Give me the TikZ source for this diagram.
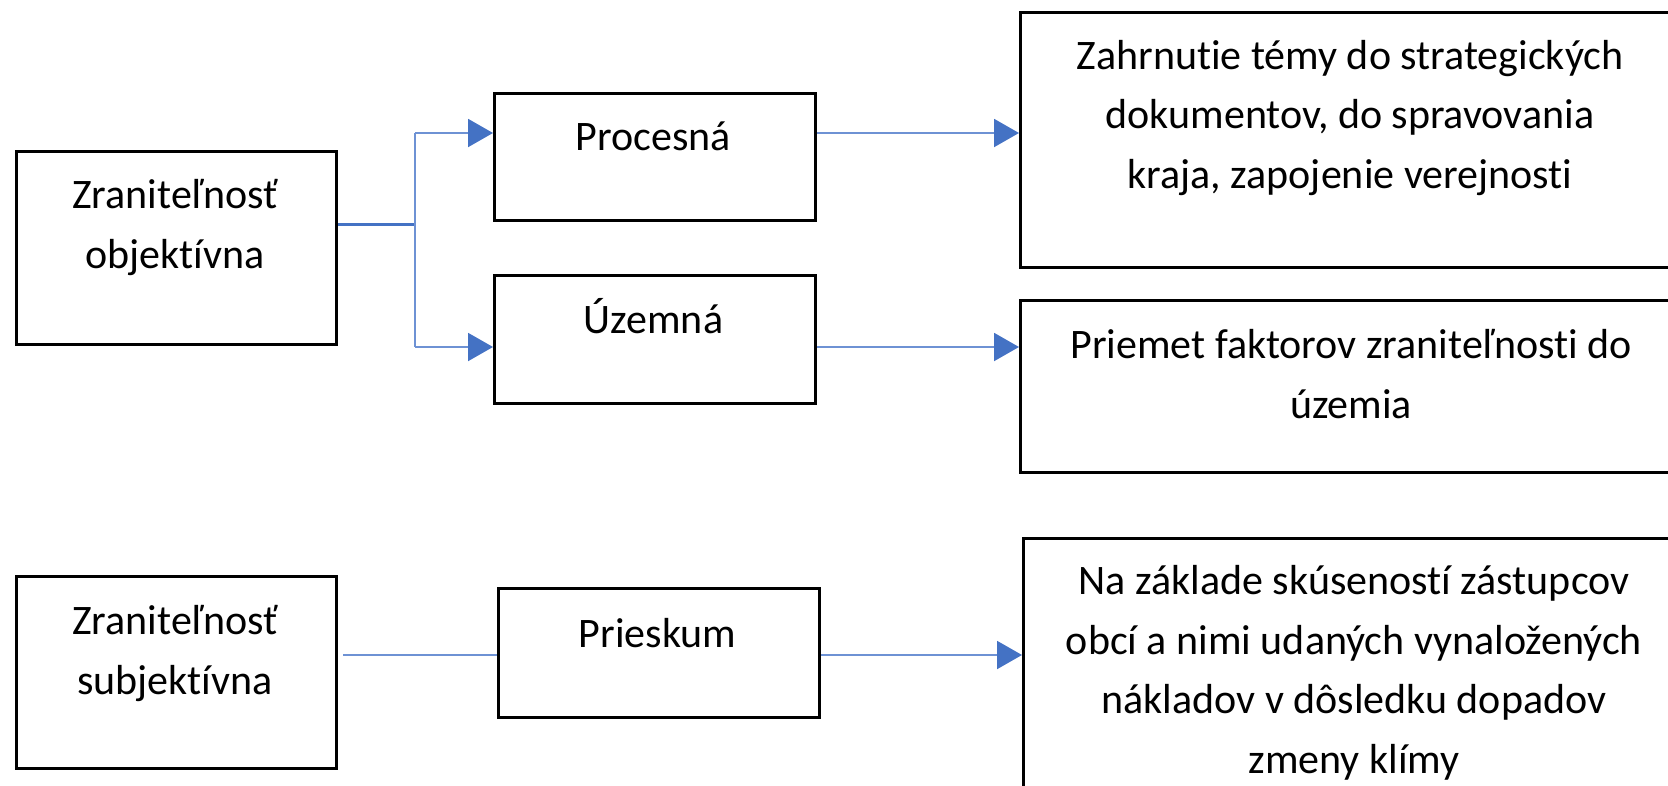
\documentclass[tikz,border=0pt]{standalone}
\usepackage{fontspec}
\setmainfont{Carlito}[Ligatures=NoCommon]
\usetikzlibrary{arrows.meta}
\definecolor{linkblue}{RGB}{68,114,196}
\definecolor{thinblue}{RGB}{110,146,212}
\tikzset{
  box/.style={draw=black, line width=3pt, fill=white, rectangle, inner sep=0pt, anchor=north west},
  txt/.style={anchor=base, align=center, inner sep=0pt, font=\fontsize{42}{59.5}\selectfont},
  trunk/.style={draw=linkblue, line width=3pt},
  branch/.style={draw=thinblue, line width=2pt},
  arr/.style={draw=thinblue, line width=2pt, -{Triangle[length=25pt,width=28pt,fill=linkblue,color=linkblue]}}
}
\begin{document}
\begin{tikzpicture}[x=1pt,y=-1pt]
\useasboundingbox (0,0) rectangle (1668,785);
% boxes
\node[box, minimum width=320pt, minimum height=193pt] (A) at (15,150) {};
\node[box, minimum width=321pt, minimum height=127pt] (B) at (493,92) {};
\node[box, minimum width=321pt, minimum height=128pt] (C) at (493,274) {};
\node[box, minimum width=662pt, minimum height=255pt] (D) at (1019,11) {};
\node[box, minimum width=662pt, minimum height=172pt] (E) at (1019,299) {};
\node[box, minimum width=320pt, minimum height=192pt] (F) at (15,575) {};
\node[box, minimum width=321pt, minimum height=129pt] (G) at (497,587) {};
\node[box, minimum width=664pt, minimum height=300pt] (H) at (1022,537) {};
% texts (base anchor = baseline of the last line)
\node[txt] (At) at (175,268) {Zraniteľnosť\\objektívna};
\node[txt] (Bt) at (653.5,150) {Procesná};
\node[txt] (Ct) at (653.5,333) {Územná};
\node[txt] (Dt) at (1350,188) {Zahrnutie témy do strategických\\dokumentov, do spravovania\\kraja, zapojenie verejnosti};
\node[txt] (Et) at (1351,418) {Priemet faktorov zraniteľnosti do\\územia};
\node[txt] (Ft) at (175,694) {Zraniteľnosť\\subjektívna};
\node[txt] (Gt) at (657.5,647) {Prieskum};
\node[txt] (Ht) at (1354,773) {Na základe skúseností zástupcov\\obcí a nimi udaných vynaložených\\nákladov v dôsledku dopadov\\zmeny klímy};
% connector points
\coordinate (j) at (415,224);
\coordinate (jb) at (415,133);
\coordinate (jc) at (415,347);
\coordinate (k) at (0,655);
% connectors
\draw[trunk] (A.east |- j) -- (j);
\draw[branch] (jb) -- (jc);
\draw[arr] (jb) -- (B.west |- jb);
\draw[arr] (jc) -- (C.west |- jc);
\draw[arr] (B.east |- jb) -- (D.west |- jb);
\draw[arr] (C.east |- jc) -- (E.west |- jc);
\draw[branch] ([xshift=5pt]F.east |- k) -- (G.west |- k);
\draw[arr] (G.east |- k) -- (H.west |- k);
\end{tikzpicture}
\end{document}
